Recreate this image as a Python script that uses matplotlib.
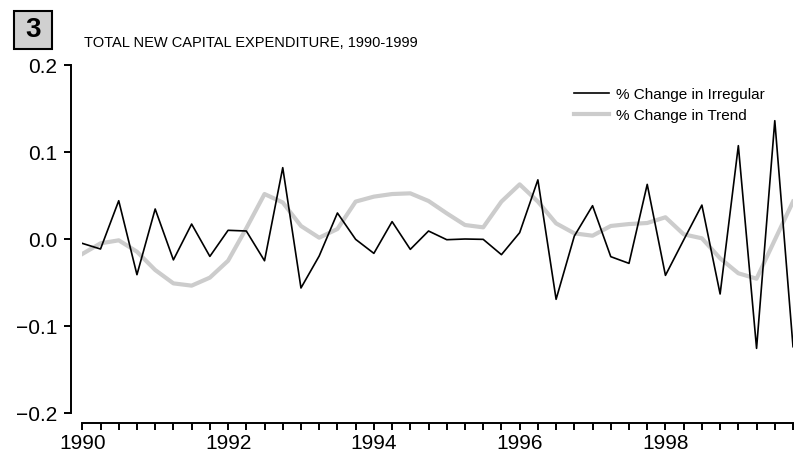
import numpy as np
import matplotlib
matplotlib.use("Agg")
import matplotlib.pyplot as plt
from matplotlib.patches import Rectangle
from matplotlib.ticker import MultipleLocator

# quarterly values, 1990 Q1 - 1999 Q4
years = np.arange(1990, 2000, 0.25)

irregular = [
    -0.005, -0.0115, 0.044, -0.041, 0.0345, -0.024, 0.0172, -0.020,
    0.010, 0.0092, -0.025, 0.082, -0.0563, -0.0195, 0.0299, -0.0004,
    -0.0165, 0.020, -0.0119, 0.0092, -0.0008, 0.0, -0.0004, -0.018,
    0.0073, 0.068, -0.0693, 0.0034, 0.0383, -0.0203, -0.028, 0.0628,
    -0.0418, -0.0011, 0.039, -0.0632, 0.1073, -0.1257, 0.136, -0.1238,
]
trend = [
    -0.0172, -0.005, -0.0015, -0.0146, -0.0356, -0.051, -0.0536, -0.0444,
    -0.025, 0.0123, 0.0517, 0.042, 0.015, 0.0015, 0.0115, 0.043,
    0.0487, 0.0517, 0.0525, 0.0437, 0.0295, 0.0161, 0.0134, 0.043,
    0.0628, 0.043, 0.018, 0.0065, 0.0038, 0.015, 0.0172, 0.0184,
    0.025, 0.0054, 0.0008, -0.0222, -0.0394, -0.0456, -0.0011, 0.043,
]

yticks = [-0.2, -0.1, 0.0, 0.1, 0.2]
xticks = [1990, 1992, 1994, 1996, 1998]

plt.rcParams["font.family"] = ["Liberation Sans", "DejaVu Sans"]

fig = plt.figure(figsize=(7.95, 4.54), dpi=100)
ax = fig.add_axes([0.1035, 0.0903, 0.894, 0.7665])

ax.plot(years, trend, color="#cccccc", lw=3, label="% Change in Trend", zorder=2)
ax.plot(years, irregular, color="black", lw=1.2, label="% Change in Irregular", zorder=3)

ax.set_xlim(1990, 1999.75)
ax.set_ylim(-0.2, 0.2)

for s in ["top", "right"]:
    ax.spines[s].set_visible(False)
ax.spines["left"].set_position(("outward", 8))
ax.spines["bottom"].set_position(("outward", 7.2))
ax.spines["left"].set_bounds(-0.2, 0.2)
ax.spines["bottom"].set_bounds(1990, 1999.75)
for s in ["left", "bottom"]:
    ax.spines[s].set_linewidth(1.4)

ax.set_yticks(yticks)
ax.set_yticklabels([f"{v:.1f}".replace("-", "\u2212") for v in yticks])
ax.set_xticks(xticks)
ax.set_xticklabels([str(v) for v in xticks])
ax.xaxis.set_minor_locator(MultipleLocator(0.25))
ax.tick_params(axis="both", which="both", width=1.4, length=5, labelsize=15)
ax.tick_params(axis="y", pad=5)
ax.tick_params(axis="x", which="both", pad=3)

# legend
handles, labels = ax.get_legend_handles_labels()
leg = ax.legend(handles[::-1], labels[::-1], loc="upper left",
                bbox_to_anchor=(566 / 795, 1 - 80 / 454), bbox_transform=fig.transFigure,
                frameon=False, borderpad=0, handlelength=2.3, handletextpad=0.5,
                labelspacing=0.45, prop={"size": 11})

# title and figure number box
fig.text(84 / 795, 1 - 43 / 454, "TOTAL NEW CAPITAL EXPENDITURE, 1990-1999",
         fontsize=10.5, va="center", ha="left")
fig.patches.append(Rectangle((14 / 795, 1 - 49 / 454), 38 / 795, 38 / 454,
                             transform=fig.transFigure, facecolor="#d0d0d0",
                             edgecolor="black", lw=1.5))
fig.text(33 / 795, 1 - 30 / 454, "3", fontsize=20, fontweight="bold",
         ha="center", va="center")

fig.savefig("out.png", dpi=100)
